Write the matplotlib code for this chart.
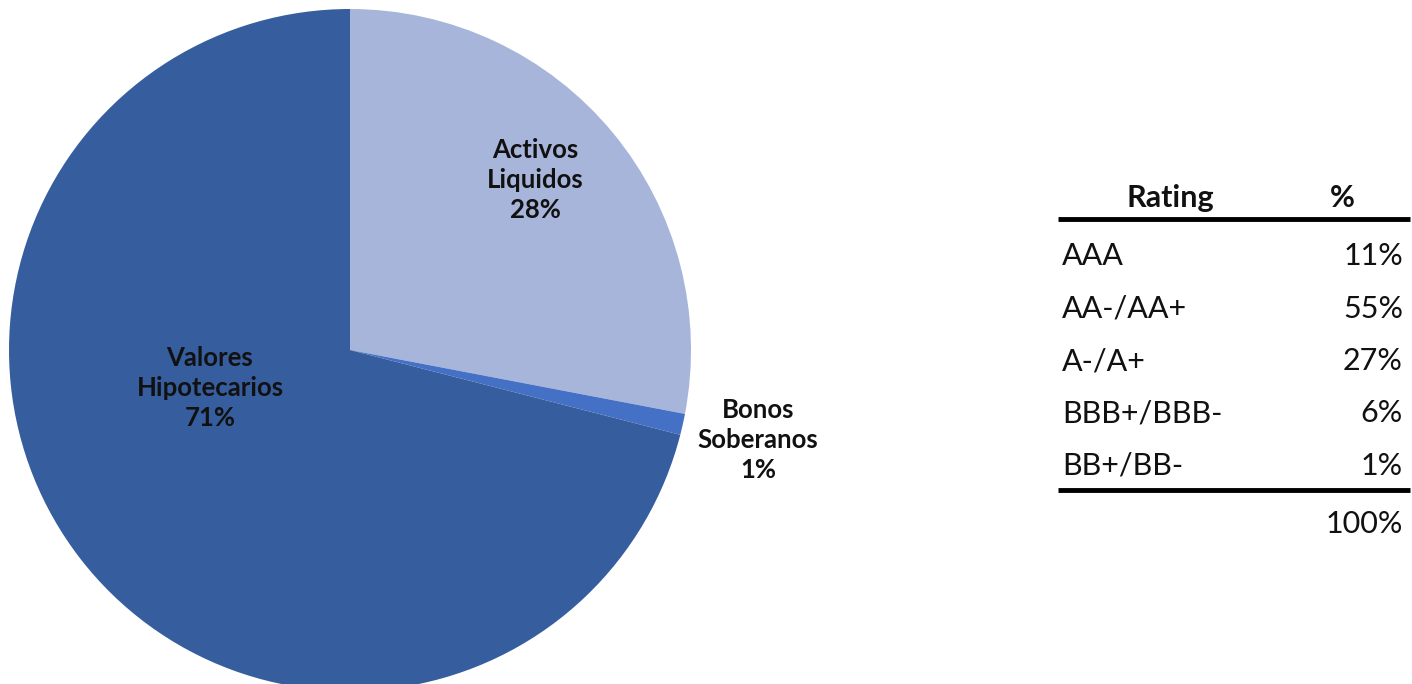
import matplotlib.pyplot as plt

# composition of the portfolio
sectores = ['Activos\nLiquidos', 'Bonos\nSoberanos', 'Valores\nHipotecarios']
pesos = [28, 1, 71]
colores = ['#A8B5DB', '#4471C6', '#365E9F']

# rating breakdown
ratings = ['AAA', 'AA-/AA+', 'A-/A+', 'BBB+/BBB-', 'BB+/BB-']
rating_pct = [11, 55, 27, 6, 1]

W, H = 1412, 684
fig = plt.figure(figsize=(W / 100, H / 100), dpi=100)
ax = fig.add_axes([0, 0, 1, 1])

# pixel coordinates, y measured from the top of the canvas
def py(y):
    return H - y

ax.pie(pesos, colors=colores, startangle=90, counterclock=False,
       center=(350, py(350)), radius=341,
       wedgeprops=dict(linewidth=0))
ax.set_xlim(0, W)
ax.set_ylim(0, H)
ax.set_aspect('equal')
ax.axis('off')

fuente = ['Lato', 'DejaVu Sans']
etiquetas_pos = [(535, 180), (758, 440), (210, 388)]
for nombre, p, (x, y) in zip(sectores, pesos, etiquetas_pos):
    ax.text(x, py(y), f'{nombre}\n{p}%', ha='center', va='center',
            fontsize=18.5, fontweight='bold', family=fuente, color='#111111',
            linespacing=1.3)

# table on the right
x_izq, x_der = 1062, 1403
ax.text(1170, py(198), 'Rating', ha='center', va='center', fontsize=22,
        fontweight='bold', family=fuente, color='#111111')
ax.text(1342, py(198), '%', ha='center', va='center', fontsize=22,
        fontweight='bold', family=fuente, color='#111111')
ax.plot([1058, 1410], [py(219), py(219)], color='black', lw=3.5,
        solid_capstyle='butt')

fila_y = 256
for r, v in zip(ratings, rating_pct):
    ax.text(x_izq, py(fila_y), r, ha='left', va='center', fontsize=22,
            family=fuente, color='#111111')
    ax.text(x_der, py(fila_y), f'{v}%', ha='right', va='center', fontsize=22,
            family=fuente, color='#111111')
    fila_y += 52.5

ax.plot([1058, 1410], [py(490), py(490)], color='black', lw=3.5,
        solid_capstyle='butt')
ax.text(x_der, py(524), f'{sum(rating_pct)}%', ha='right', va='center',
        fontsize=22, family=fuente, color='#111111')

fig.savefig('out.png', dpi=100)
